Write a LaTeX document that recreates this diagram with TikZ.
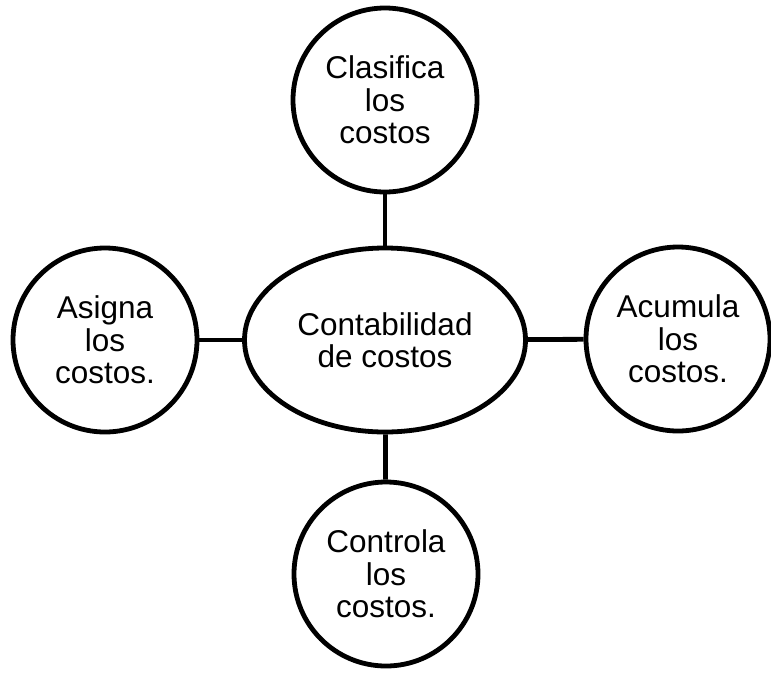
\documentclass[tikz,border=0pt]{standalone}
\usepackage{fontspec}
\setmainfont{Liberation Sans}
\usetikzlibrary{shapes.geometric}
\begin{document}
\begin{tikzpicture}[x=1pt, y=-1pt, line width=4.8pt,
		tema/.style={draw, circle, minimum size=184pt, inner sep=0pt, align=center, font=\fontsize{31.5}{32.5}\selectfont},
		centro/.style={draw, ellipse, minimum width=281pt, minimum height=184pt, inner sep=0pt, align=center, font=\fontsize{31.5}{32.5}\selectfont}]
	\useasboundingbox (0,0) rectangle (771,673);

\node[centro] (conta) at (385, 340) {Contabilidad\\de costos};

\node[tema] (clasifica) at (385, 100) {Clasifica\\los\\costos};
\node[tema] (asigna) at (105, 340) {Asigna\\los\\costos.};
\node[tema] (acumula) at (678, 339) {Acumula\\los\\costos.};
\node[tema] (controla) at (386, 574) {Controla\\los\\costos.};

\draw (conta) -- (clasifica);
\draw (conta) -- (asigna);
\draw (conta) -- (acumula);
\draw (conta) -- (controla);
\end{tikzpicture}
\end{document}
